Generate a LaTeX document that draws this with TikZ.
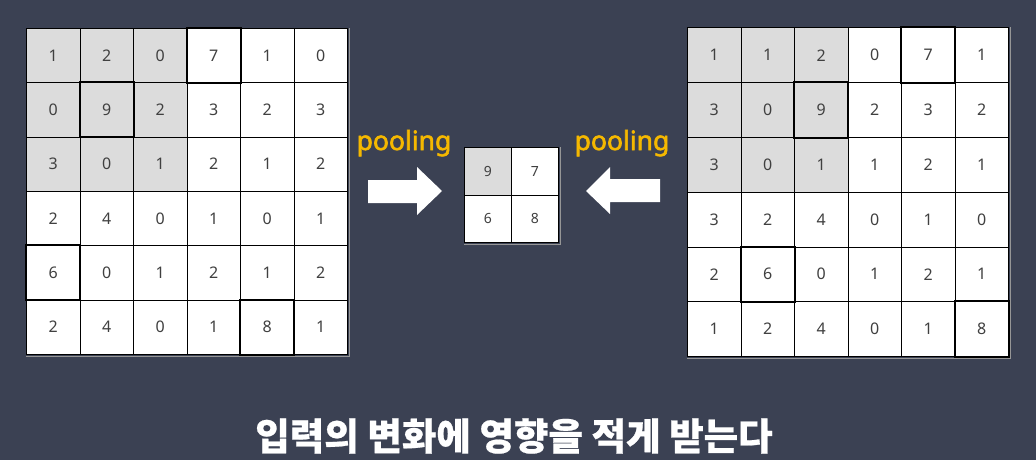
\documentclass[tikz,border=0pt]{standalone}
\usepackage{fontspec}
\setmainfont{Noto Sans}
\newfontfamily\poolfont{Noto Sans}[FakeBold=2.2]
\newfontfamily\krfont{Noto Sans CJK KR}[BoldFeatures={FakeBold=0.6}]
\definecolor{bg}{RGB}{59,65,83}
\definecolor{cellgray}{RGB}{220,220,220}
\definecolor{numcol}{RGB}{64,64,64}
\definecolor{pool}{RGB}{245,184,0}
\definecolor{shadowline}{RGB}{150,150,150}
\begin{document}
\begin{tikzpicture}[x=1pt,y=-1pt,
  cellL/.style={draw=black, line width=0.8pt, minimum width=53.5pt, minimum height=54.3pt, inner sep=0pt, anchor=north west, font=\fontsize{16}{16}\selectfont, text=numcol},
  cellR/.style={cellL, minimum height=54.75pt},
  cellM/.style={cellL, minimum width=47pt, minimum height=47.5pt, font=\fontsize{14}{14}\selectfont},
  boldcell/.style={draw=black, line width=2pt},
  shadow/.style={draw=shadowline, line width=0.8pt},
  poolcap/.style={text=pool, font=\poolfont\fontsize{26.5}{26.5}\selectfont, inner sep=0pt},
  bigarrow/.style={fill=white, draw=none}]
\useasboundingbox (0,0) rectangle (1036,460);
\fill[bg] (0,0) rectangle (1036,460);
% left grid
\foreach \rowvals [count=\r] in {{1,2,0,7,1,0},{0,9,2,3,2,3},{3,0,1,2,1,2},{2,4,0,1,0,1},{6,0,1,2,1,2},{2,4,0,1,8,1}} {
  \foreach \v [count=\c] in \rowvals {
    \ifnum\r<4 \ifnum\c<4 \def\fc{cellgray}\else\def\fc{white}\fi\else\def\fc{white}\fi
    \node[cellL, fill=\fc] (L-\r-\c) at ({26+(\c-1)*53.5},{28+(\r-1)*54.3}) {\v};
  }
}
% right grid
\foreach \rowvals [count=\r] in {{1,1,2,0,7,1},{3,0,9,2,3,2},{3,0,1,1,2,1},{3,2,4,0,1,0},{2,6,0,1,2,1},{1,2,4,0,1,8}} {
  \foreach \v [count=\c] in \rowvals {
    \ifnum\r<4 \ifnum\c<4 \def\fc{cellgray}\else\def\fc{white}\fi\else\def\fc{white}\fi
    \node[cellR, fill=\fc] (R-\r-\c) at ({687+(\c-1)*53.5},{27.5+(\r-1)*54.75}) {\v};
  }
}
% middle grid
\node[cellM, fill=cellgray] (M-1-1) at (464,147) {9};
\node[cellM, fill=white] (M-1-2) at (511,147) {7};
\node[cellM, fill=white] (M-2-1) at (464,194.5) {6};
\node[cellM, fill=white] (M-2-2) at (511,194.5) {8};
% shadow lines
\draw[shadow] ([xshift=2pt]L-1-6.north east) -- ([xshift=2pt,yshift=-2pt]L-6-6.south east) -- ([yshift=-2pt]L-6-1.south west);
\draw[shadow] ([xshift=2pt]R-1-6.north east) -- ([xshift=2pt,yshift=-2pt]R-6-6.south east) -- ([yshift=-2pt]R-6-1.south west);
\draw[shadow] ([xshift=2pt]M-1-2.north east) -- ([xshift=2pt,yshift=-2pt]M-2-2.south east) -- ([yshift=-2pt]M-2-1.south west);
% bold cells
\foreach \n in {L-1-4,L-2-2,L-5-1,L-6-5,R-1-5,R-2-3,R-5-2,R-6-6} {
  \draw[boldcell] (\n.north west) rectangle (\n.south east);
}
% pooling labels
\node[poolcap, anchor=base] (poolL) at (404,150) {pooling};
\node[poolcap, anchor=base] (poolR) at (622,150) {pooling};
% arrows
\fill[bigarrow] (368,180) -- (417,180) -- (417,167) -- (442,191) -- (417,215) -- (417,203) -- (368,203) -- cycle;
\fill[bigarrow] (660,179) -- (610,179) -- (610,167) -- (586,191) -- (610,214) -- (610,202) -- (660,202) -- cycle;
% caption
\node[text=white, font=\krfont\bfseries\fontsize{37.5}{37.5}\selectfont, inner sep=0pt] (cap) at (514,436) {입력의 변화에 영향을 적게 받는다};
\end{tikzpicture}
\end{document}
